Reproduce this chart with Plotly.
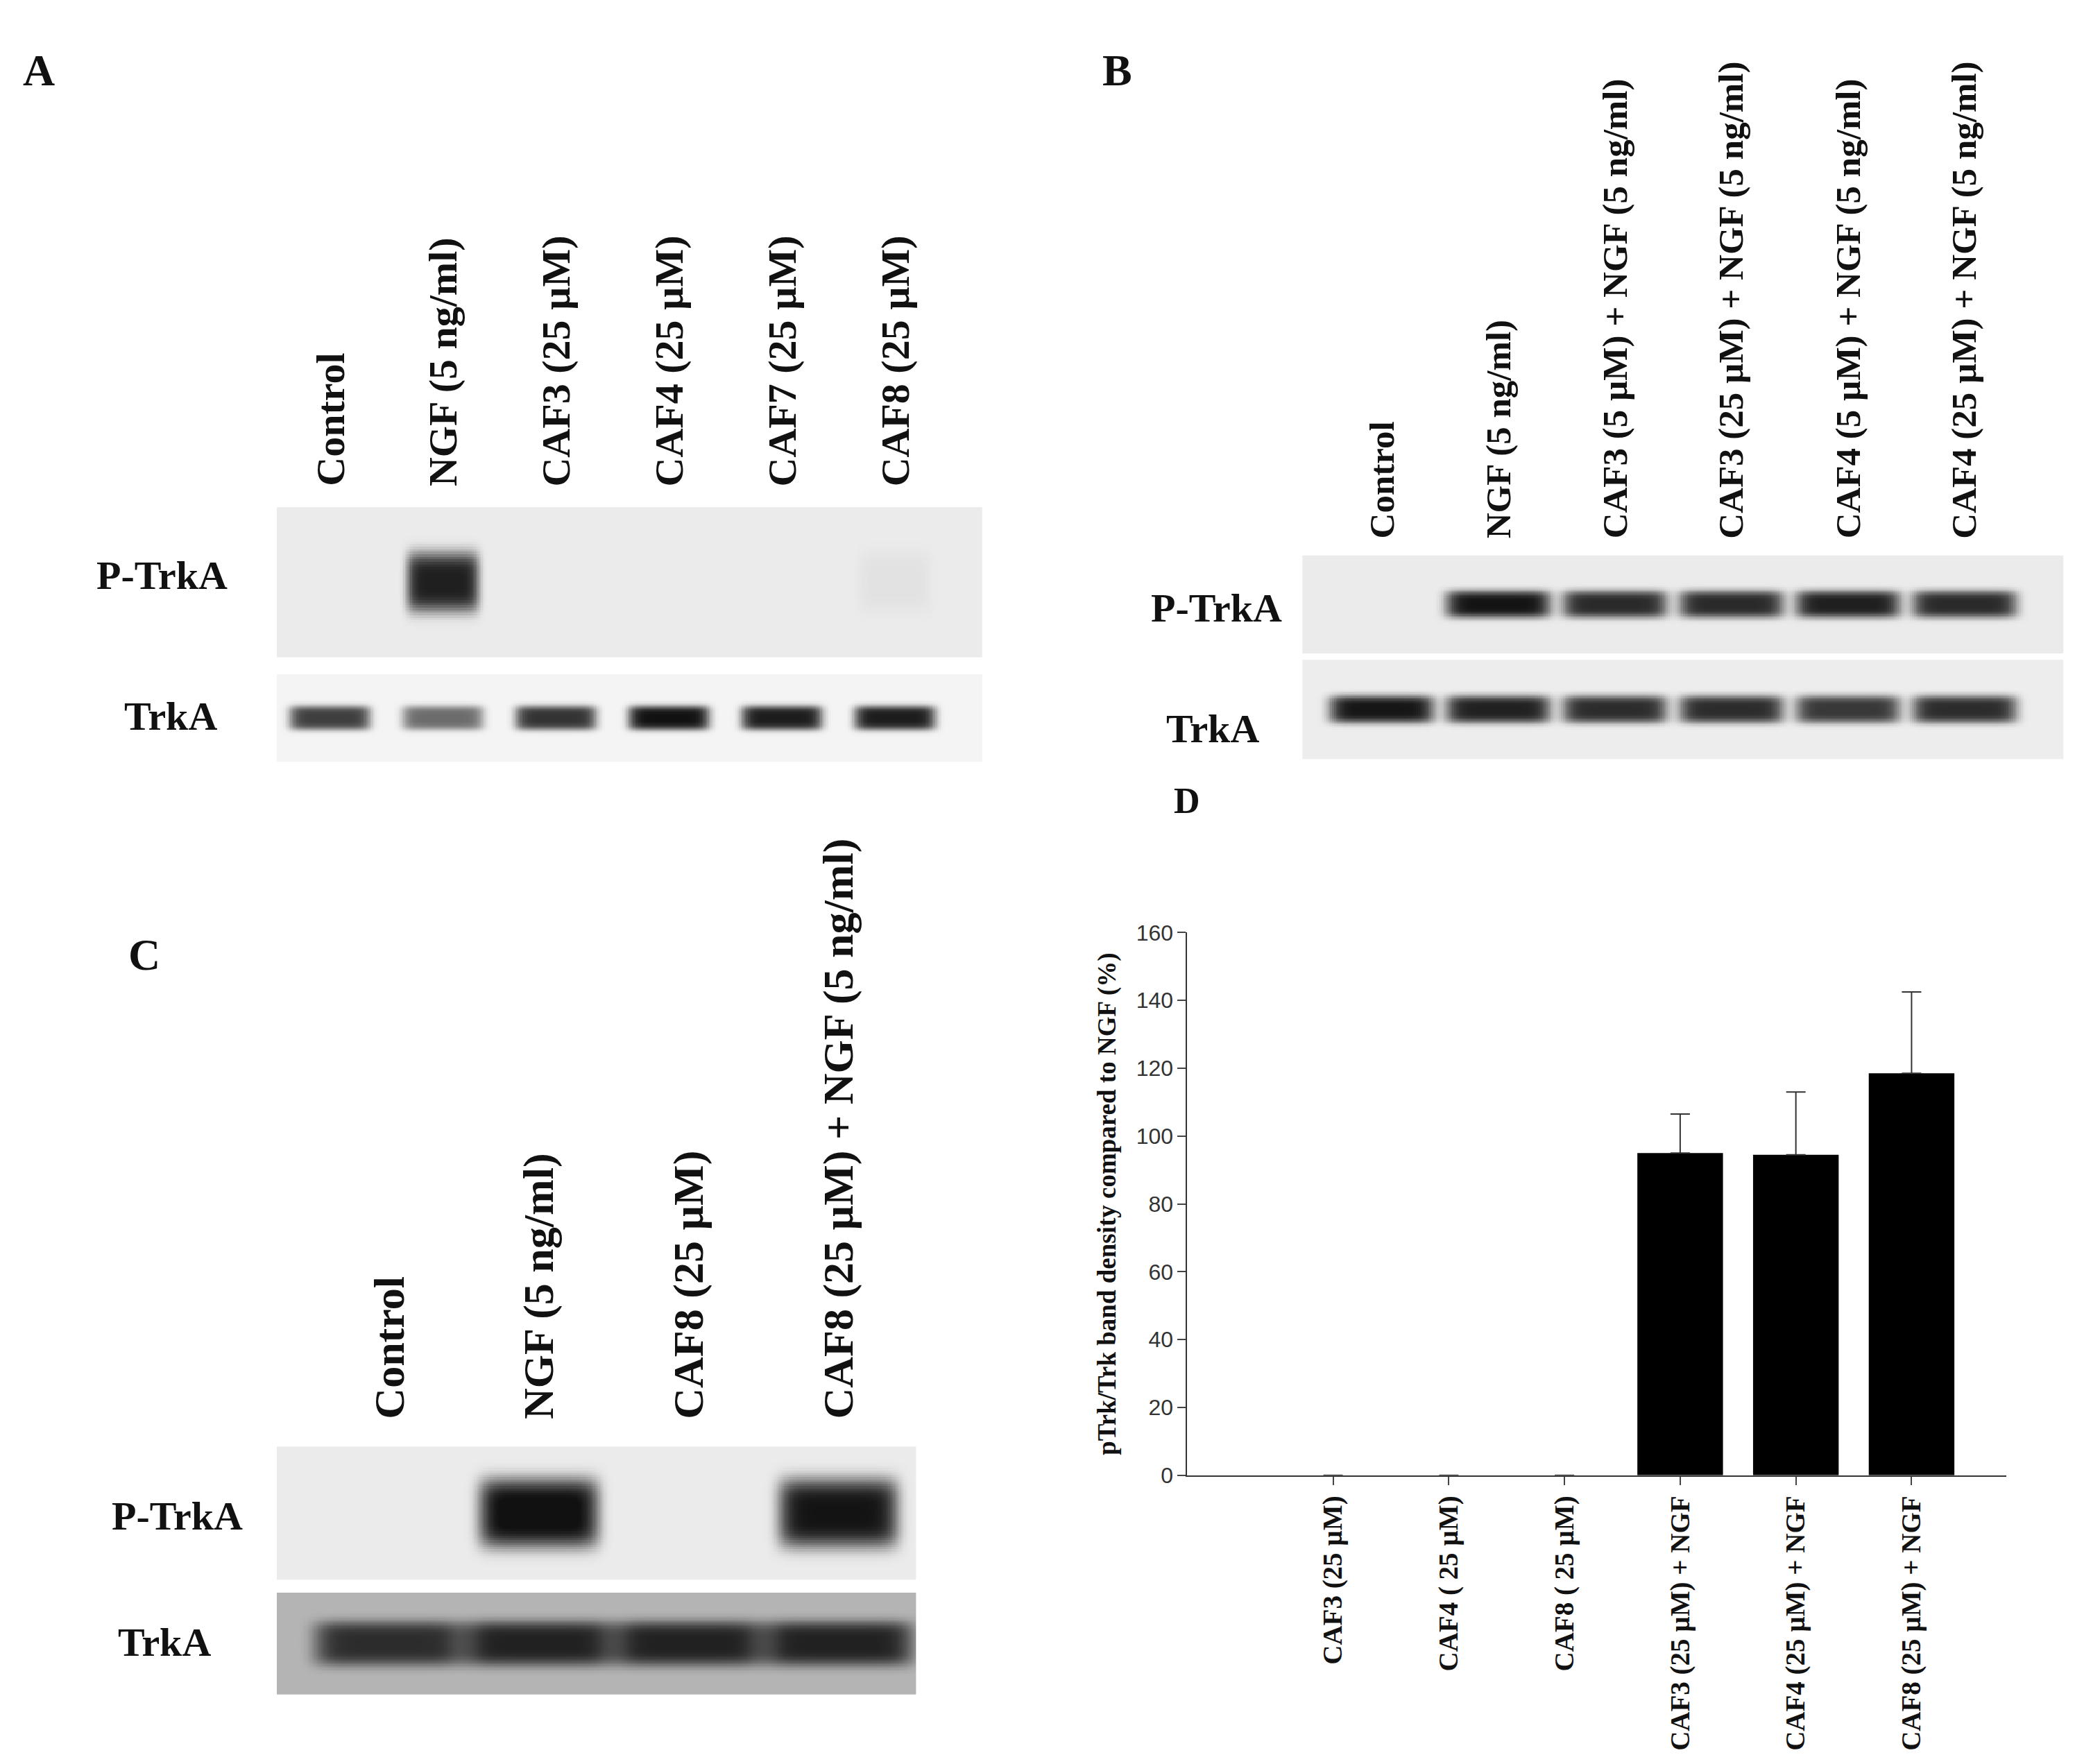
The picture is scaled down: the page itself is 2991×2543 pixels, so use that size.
import numpy as np
import plotly.graph_objects as go

W, H = 2991, 2543

# ---- data ----
a_lanes = ["Control", "NGF (5 ng/ml)", "CAF3 (25 µM)", "CAF4 (25 µM)", "CAF7 (25 µM)", "CAF8 (25 µM)"]
a_ptrka = [0.0, 0.9, 0.0, 0.0, 0.0, 0.04]
a_trka = [0.8, 0.6, 0.85, 1.0, 0.95, 0.95]

b_lanes = ["Control", "NGF (5 ng/ml)", "CAF3 (5 µM) + NGF (5 ng/ml)", "CAF3 (25 µM) + NGF (5 ng/ml)",
           "CAF4 (5 µM) + NGF (5 ng/ml)", "CAF4 (25 µM) + NGF (5 ng/ml)"]
b_ptrka = [0.0, 0.95, 0.85, 0.85, 0.9, 0.85]
b_trka = [0.95, 0.9, 0.85, 0.85, 0.8, 0.85]

c_lanes = ["Control", "NGF (5 ng/ml)", "CAF8 (25 µM)", "CAF8 (25 µM) + NGF (5 ng/ml)"]
c_ptrka = [0.0, 1.0, 0.0, 0.95]
c_trka = [0.6, 0.65, 0.65, 0.65]

d_categories = ["CAF3 (25 µM)", "CAF4 ( 25 µM)", "CAF8 ( 25 µM)",
                "CAF3 (25 µM) + NGF", "CAF4 (25 µM) + NGF", "CAF8 (25 µM) + NGF"]
d_values = [0, 0, 0, 95, 94.5, 118.5]
d_errors = [0, 0, 0, 11.5, 18.5, 24]
d_yticks = [0, 20, 40, 60, 80, 100, 120, 140, 160]

SERIF = "Liberation Serif, Times New Roman, serif"
SANS = "Liberation Sans, Arial, sans-serif"

fig = go.Figure()
annotations = []


def px_x(x):
    return x / 1568


def px_y(y):
    return 1 - y / 1333


def blot(strip, idx, x0, x1, y0, y1, xr, bg=0.04, bw=0.3, bh=0.22):
    xs = np.linspace(xr[0], xr[1], 400)
    ys = np.linspace(0, 1, 60)
    X, Y = np.meshgrid(xs, ys)
    z = np.full(X.shape, bg)
    for i, v in enumerate(strip):
        z += v * np.exp(-((X - i) / bw) ** 8) * np.exp(-((Y - 0.5) / bh) ** 4)
    z = np.clip(z, 0, 1)
    ax = "" if idx == 1 else str(idx)
    fig.add_trace(go.Heatmap(x=xs, y=ys, z=z, zmin=0, zmax=1, showscale=False, hoverinfo="skip",
                             colorscale=[[0, "#f4f4f4"], [1, "#111111"]],
                             xaxis="x" + ax, yaxis="y" + ax))
    fig.layout["xaxis" + ax] = dict(domain=[px_x(x0), px_x(x1)], range=xr, visible=False,
                                    anchor="y" + ax)
    fig.layout["yaxis" + ax] = dict(domain=[px_y(y1), px_y(y0)], range=[0, 1], visible=False,
                                    anchor="x" + ax)


def lane_labels(lanes, x0, x1, xr, ybot, size):
    for i, lab in enumerate(lanes):
        fx = px_x(x0) + (i - xr[0]) / (xr[1] - xr[0]) * (px_x(x1) - px_x(x0))
        annotations.append(dict(x=fx, y=px_y(ybot), xref="paper", yref="paper", text="<b>%s</b>" % lab,
                                textangle=-90, showarrow=False, xanchor="center", yanchor="bottom",
                                font=dict(family=SERIF, size=size, color="#111")))


def text(x, y, s, size=58):
    annotations.append(dict(x=px_x(x), y=px_y(y), xref="paper", yref="paper", text="<b>%s</b>" % s,
                            showarrow=False, xanchor="center", yanchor="middle",
                            font=dict(family=SERIF, size=size, color="#111")))


# panel A
ra = [-0.47, 5.77]
blot(a_ptrka, 1, 205, 738, 375, 490, ra, bw=0.32, bh=0.2)
blot(a_trka, 2, 205, 738, 503, 570, ra, bg=0.0, bw=0.36, bh=0.14)
lane_labels(a_lanes, 205, 738, ra, 360, 58)
text(25, 40, "A", 64)
text(118, 427, "P-TrkA")
text(125, 535, "TrkA")

# panel B
rb = [-0.68, 5.85]
blot(b_ptrka, 3, 980, 1555, 412, 487, rb, bw=0.45, bh=0.14)
blot(b_trka, 4, 980, 1555, 492, 568, rb, bg=0.03, bw=0.45, bh=0.14)
lane_labels(b_lanes, 980, 1555, rb, 400, 51)
text(840, 40, "B", 64)
text(915, 452, "P-TrkA")
text(912, 545, "TrkA")

# panel C
rc = [-0.75, 3.52]
blot(c_ptrka, 5, 205, 688, 1095, 1197, rc, bw=0.4, bh=0.26)
blot(c_trka, 6, 205, 688, 1207, 1285, rc, bg=0.28, bw=0.5, bh=0.22)
lane_labels(c_lanes, 205, 688, rc, 1075, 62)
text(105, 718, "C", 64)
text(130, 1148, "P-TrkA")
text(120, 1245, "TrkA")

# panel D
fig.add_trace(go.Bar(x=list(range(len(d_categories))), y=d_values, width=0.74,
                     marker=dict(color="black", line=dict(width=0)),
                     error_y=dict(type="data", array=d_errors, symmetric=False, color="#333",
                                  thickness=2, width=14),
                     xaxis="x7", yaxis="y7"))
fig.layout["xaxis7"] = dict(domain=[px_x(893), px_x(1512)], range=[-1.26, 5.82], anchor="y7",
                            tickvals=list(range(len(d_categories))),
                            ticktext=["<b>%s</b>" % c for c in d_categories], tickangle=-90,
                            tickfont=dict(family=SERIF, size=39, color="#111"),
                            ticks="outside", ticklen=12, tickwidth=2, showline=True, linewidth=2,
                            linecolor="#333", showgrid=False, zeroline=False)
fig.layout["yaxis7"] = dict(domain=[px_y(1117), px_y(701)], range=[0, 160], anchor="x7",
                            tickvals=d_yticks, tickfont=dict(family=SANS, size=32, color="#333"),
                            ticks="outside", ticklen=12, tickwidth=2, showline=True, linewidth=2,
                            linecolor="#333", showgrid=False, zeroline=False,
                            title=dict(text="<b>pTrk/Trk band density compared to NGF (%)</b>",
                                       font=dict(family=SERIF, size=37, color="#111"), standoff=18))
text(893, 600, "D", 52)

fig.update_layout(width=W, height=H, margin=dict(l=0, r=0, t=0, b=0), paper_bgcolor="white",
                  plot_bgcolor="white", showlegend=False, annotations=annotations)
fig.write_html("out.html")
